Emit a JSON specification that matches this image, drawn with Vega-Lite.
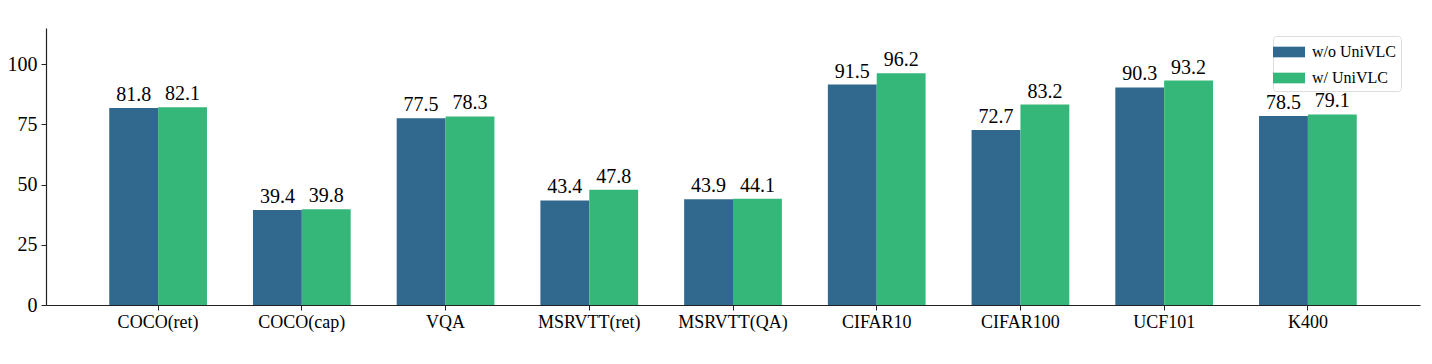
{
  "$schema": "https://vega.github.io/schema/vega-lite/v6.json",
  "width": 1374,
  "height": 277,
  "autosize": {"type": "none"},
  "padding": {"left": 46, "top": 28, "right": 12, "bottom": 59},
  "background": "white",
  "config": {
    "view": {"stroke": null},
    "font": "Liberation Serif, serif"
  },
  "data": {
    "values": [
      {"task": "COCO(ret)", "method": "w/o UniVLC", "value": 81.8},
      {"task": "COCO(ret)", "method": "w/ UniVLC", "value": 82.1},
      {"task": "COCO(cap)", "method": "w/o UniVLC", "value": 39.4},
      {"task": "COCO(cap)", "method": "w/ UniVLC", "value": 39.8},
      {"task": "VQA", "method": "w/o UniVLC", "value": 77.5},
      {"task": "VQA", "method": "w/ UniVLC", "value": 78.3},
      {"task": "MSRVTT(ret)", "method": "w/o UniVLC", "value": 43.4},
      {"task": "MSRVTT(ret)", "method": "w/ UniVLC", "value": 47.8},
      {"task": "MSRVTT(QA)", "method": "w/o UniVLC", "value": 43.9},
      {"task": "MSRVTT(QA)", "method": "w/ UniVLC", "value": 44.1},
      {"task": "CIFAR10", "method": "w/o UniVLC", "value": 91.5},
      {"task": "CIFAR10", "method": "w/ UniVLC", "value": 96.2},
      {"task": "CIFAR100", "method": "w/o UniVLC", "value": 72.7},
      {"task": "CIFAR100", "method": "w/ UniVLC", "value": 83.2},
      {"task": "UCF101", "method": "w/o UniVLC", "value": 90.3},
      {"task": "UCF101", "method": "w/ UniVLC", "value": 93.2},
      {"task": "K400", "method": "w/o UniVLC", "value": 78.5},
      {"task": "K400", "method": "w/ UniVLC", "value": 79.1}
    ]
  },
  "encoding": {
    "x": {
      "field": "task",
      "type": "nominal",
      "sort": null,
      "title": null,
      "scale": {"paddingInner": 0.32, "paddingOuter": 0.44},
      "axis": {
        "labelAngle": 0,
        "labelFont": "Liberation Serif, serif",
        "labelFontSize": 18,
        "labelColor": "#000",
        "labelPadding": 3,
        "tickSize": 5,
        "tickColor": "#222",
        "domainColor": "#222",
        "domainWidth": 1.2,
        "grid": false
      }
    },
    "xOffset": {
      "field": "method",
      "type": "nominal",
      "sort": ["w/o UniVLC", "w/ UniVLC"],
      "scale": {"paddingInner": 0, "paddingOuter": 0}
    },
    "y": {
      "field": "value",
      "type": "quantitative",
      "title": null,
      "scale": {"domain": [0, 115], "nice": false},
      "axis": {
        "values": [0, 25, 50, 75, 100],
        "labelFont": "Liberation Serif, serif",
        "labelFontSize": 20,
        "labelColor": "#000",
        "labelPadding": 4,
        "tickSize": 5,
        "tickColor": "#222",
        "domainColor": "#222",
        "domainWidth": 1.2,
        "grid": false
      }
    }
  },
  "layer": [
    {
      "mark": {"type": "bar"},
      "encoding": {
        "color": {
          "field": "method",
          "type": "nominal",
          "sort": ["w/o UniVLC", "w/ UniVLC"],
          "scale": {"domain": ["w/o UniVLC", "w/ UniVLC"], "range": ["#31688e", "#35b779"]},
          "legend": {
            "title": null,
            "orient": "none",
            "legendX": 1227,
            "legendY": 8,
            "direction": "vertical",
            "labelFont": "Liberation Serif, serif",
            "labelFontSize": 16,
            "labelColor": "#000",
            "symbolType": "M-1.5,-0.5H1.5V0.5H-1.5Z",
            "symbolSize": 455,
            "symbolStrokeWidth": 0,
            "symbolOpacity": 1,
            "rowPadding": 7,
            "labelOffset": 12,
            "padding": 5,
            "strokeColor": "#dddddd",
            "cornerRadius": 3,
            "fillColor": "white"
          }
        }
      }
    },
    {
      "mark": {"type": "text", "baseline": "alphabetic", "dy": -7, "fontSize": 20, "font": "Liberation Serif, serif", "color": "#000"},
      "encoding": {
        "text": {"field": "value", "type": "quantitative", "format": ".1f"}
      }
    }
  ]
}
